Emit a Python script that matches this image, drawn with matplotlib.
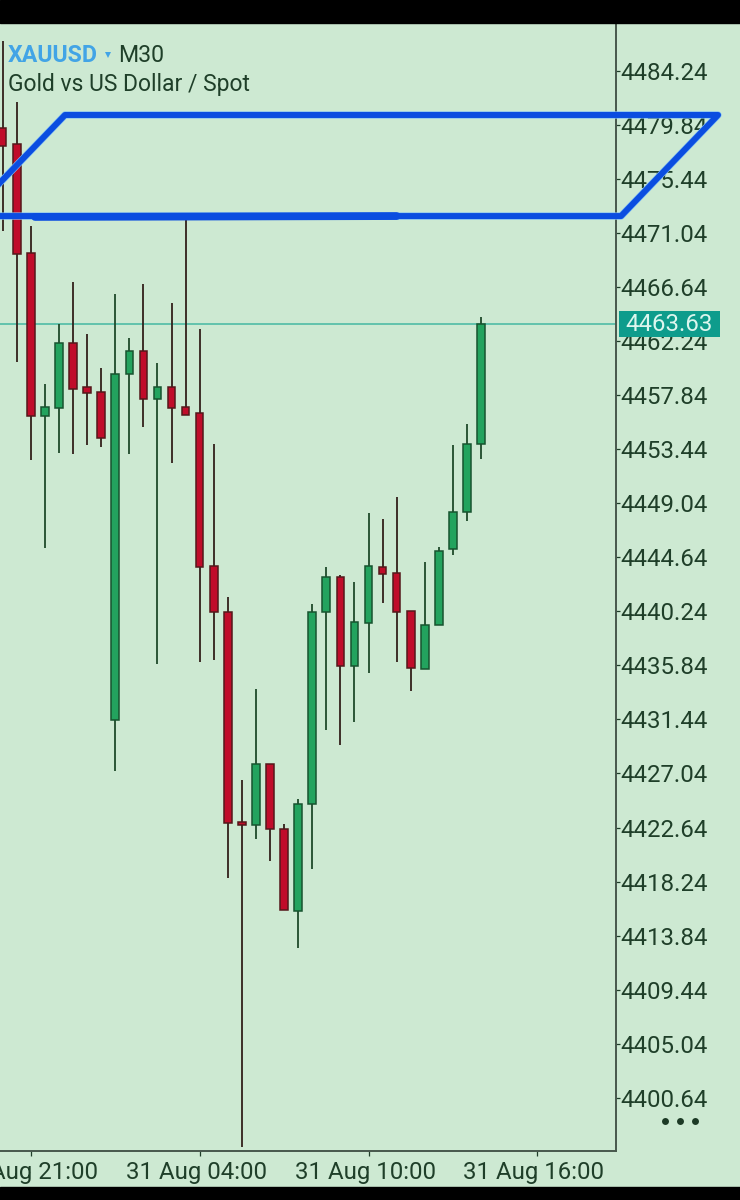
import matplotlib
matplotlib.use("Agg")
import matplotlib.pyplot as plt
from matplotlib.patches import Rectangle
from matplotlib.transforms import ScaledTranslation

plt.rcParams['font.family'] = ['Roboto', 'DejaVu Sans']

opens = [4479.60, 4478.30, 4469.42, 4456.15, 4456.80, 4462.09, 4458.51, 4458.10, 4431.39, 4459.57,
         4461.44, 4457.53, 4458.51, 4456.88, 4456.39, 4443.93, 4440.19, 4423.09, 4422.84, 4427.81,
         4422.52, 4415.84, 4424.55, 4440.19, 4443.04, 4435.79, 4439.29, 4443.85, 4443.36, 4440.27,
         4435.54, 4439.13, 4445.32, 4448.33, 4453.87]
closes = [4478.13, 4469.34, 4456.15, 4456.88, 4462.09, 4458.35, 4458.02, 4454.35, 4459.57, 4461.44,
          4457.53, 4458.51, 4456.80, 4456.23, 4443.85, 4440.19, 4423.00, 4422.84, 4427.81, 4422.52,
          4415.92, 4424.55, 4440.19, 4443.04, 4435.79, 4439.37, 4443.93, 4443.28, 4440.19, 4435.63,
          4439.13, 4445.15, 4448.33, 4453.87, 4463.63]
highs = [4486.68, 4481.72, 4471.62, 4458.75, 4463.64, 4467.06, 4462.82, 4460.06, 4466.08, 4462.50,
         4466.90, 4460.46, 4465.35, 4472.11, 4463.23, 4453.87, 4441.41, 4426.51, 4433.92, 4427.81,
         4422.92, 4424.96, 4440.84, 4443.85, 4443.20, 4442.63, 4448.25, 4447.76, 4449.55, 4440.27,
         4444.26, 4445.48, 4453.79, 4455.50, 4464.21]
lows = [4471.21, 4460.54, 4452.56, 4445.40, 4453.13, 4453.05, 4453.79, 4453.62, 4427.24, 4453.05,
        4455.25, 4435.95, 4452.32, 4456.23, 4436.11, 4436.28, 4418.53, 4396.62, 4421.70, 4419.91,
        4415.92, 4412.83, 4419.26, 4430.58, 4429.36, 4431.23, 4435.22, 4440.92, 4436.11, 4433.75,
        4435.54, 4439.13, 4444.83, 4447.60, 4452.65]

y_ticks = [4484.24, 4479.84, 4475.44, 4471.04, 4466.64, 4462.24, 4457.84, 4453.44, 4449.04, 4444.64,
           4440.24, 4435.84, 4431.44, 4427.04, 4422.64, 4418.24, 4413.84, 4409.44, 4405.04, 4400.64]
x_ticks = [2, 14, 26, 38]
x_labels = ["30 Aug 21:00", "31 Aug 04:00", "31 Aug 10:00", "31 Aug 16:00"]
last_price = 4463.63

# the drawn channel (bar index, price)
channel_x = [-2.47, 4.43, 50.84, 43.95, -2.47]
channel_y = [4472.43, 4480.66, 4480.66, 4472.43, 4472.43]
thick_x = [2.3, 28.0]
thick_y = [4472.36, 4472.43]

BG = "#cde9d2"
TXT = "#1f3f29"
UP = "#23a35e"
DOWN = "#c00c2a"

W, H = 740, 1200
fig = plt.figure(figsize=(W / 100, H / 100), dpi=100, facecolor=BG)
ax = fig.add_axes([0, (H - 1151) / H, 616 / W, (1151 - 23) / H], facecolor=BG)
ax.set_axisbelow(True)

ax.axhline(last_price, color="#45b8a2", lw=1.1, zorder=1)

for i in range(len(opens)):
    up = closes[i] >= opens[i]
    wick = "#1f4a2a" if up else "#33201b"
    edge = "#17542f" if up else "#54181b"
    ax.vlines(i, lows[i], highs[i], color=wick, lw=1.3, zorder=2)
    ax.bar(i, abs(closes[i] - opens[i]), bottom=min(opens[i], closes[i]), width=0.54,
           color=UP if up else DOWN, edgecolor=edge, linewidth=1.1, zorder=3)

# light halo under the blue object lines
ax.plot(channel_x, channel_y, color="#7dbcf5", lw=5.2, clip_on=False, zorder=4, solid_joinstyle="round")
ax.plot(channel_x, channel_y, color="#0b4de0", lw=4.3, clip_on=False, zorder=5, solid_joinstyle="round")
ax.plot(thick_x, thick_y, color="#0b4de0", lw=5.6, clip_on=False, zorder=5, solid_capstyle="round")

ax.set_xlim(-0.19, 43.59)
ax.set_ylim(4396.30, 4488.15)

ax.yaxis.tick_right()
ax.set_yticks(y_ticks)
ax.set_yticklabels([f"{v:.2f}" for v in y_ticks])
ax.set_xticks(x_ticks)
ax.set_xticklabels(x_labels)
ax.tick_params(axis="y", length=3, width=0.9, pad=0.2, labelsize=17.3, colors=TXT)
ax.tick_params(axis="x", length=3.5, width=0.9, pad=3.5, labelsize=17.3, colors=TXT)

shift = ScaledTranslation(-3.5 / 100, 0, fig.dpi_scale_trans)
for lab in ax.get_xticklabels():
    lab.set_transform(lab.get_transform() + shift)

ax.spines["left"].set_visible(False)
for side in ["right", "bottom", "top"]:
    ax.spines[side].set_color("#47584c")
    ax.spines[side].set_linewidth(1.4)

# price tag on the scale
ax.add_patch(Rectangle((1.005, last_price - 1.06), 0.164, 2.12, transform=ax.get_yaxis_transform(),
                       facecolor="#0e9c8c", edgecolor="none", clip_on=False, zorder=6))
ax.text(1.0145, last_price, f"{last_price:.2f}", transform=ax.get_yaxis_transform(), color="#dcf6ee",
        fontsize=17.3, va="center", ha="left", zorder=7)

# header text
fig.text(8 / W, 1 - 56 / H, "XAUUSD", color="#42a4e6", fontsize=16.7, fontweight="bold", va="center")
fig.text(118 / W, 1 - 56 / H, "M30", color=TXT, fontsize=16.7, va="center")
fig.text(8 / W, 1 - 85 / H, "Gold vs US Dollar / Spot", color=TXT, fontsize=16.5, va="center")
ax.plot([108 / W], [1 - 55 / H], marker="v", ms=5, color="#42a4e6", mew=0,
        transform=fig.transFigure, clip_on=False)

# menu dots under the scale
ax.plot([665 / W, 680 / W, 695 / W], [1 - 1121 / H] * 3, ls="none", marker="o", ms=5, color="#1c3a25",
        mew=0, transform=fig.transFigure, clip_on=False)

# black phone bars
fig.add_artist(Rectangle((0, 1 - 23 / H), 1, 23 / H, transform=fig.transFigure, color="black"))
fig.add_artist(Rectangle((0, 0), 1, 13 / H, transform=fig.transFigure, color="black"))

fig.savefig("out.png", dpi=100, facecolor=BG)
